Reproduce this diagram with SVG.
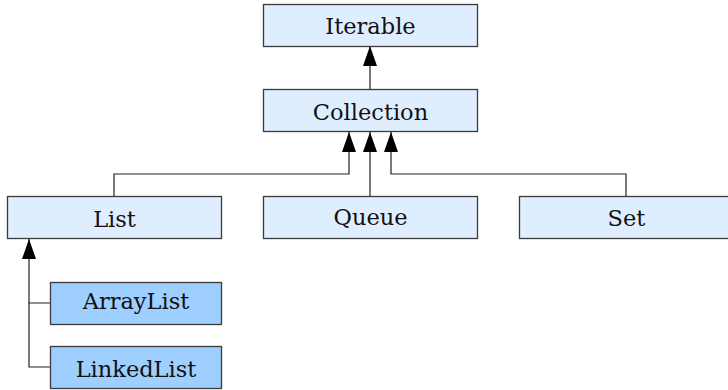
<svg xmlns="http://www.w3.org/2000/svg" width="728" height="390" viewBox="0 0 728 390">
  <style>
    .box { stroke: #3a3a3a; stroke-width: 1.3; }
    .iface { fill: #dfeeff; }
    .impl { fill: #9fcfff; }
    .label { font-family: 'DejaVu Serif', 'Liberation Serif', serif; font-size: 22.5px; fill: #111; text-anchor: middle; }
    .edge { fill: none; stroke: #222; stroke-width: 1.2; }
  </style>
  <defs>
    <marker id="arrow" viewBox="0 0 20 14" refX="20" refY="7" markerWidth="20" markerHeight="14" markerUnits="userSpaceOnUse" orient="auto">
      <path d="M20 7 L0 0 L0 14 Z" fill="#000"/>
    </marker>
  </defs>

  <rect width="728" height="390" fill="#ffffff"/>

  <!-- inheritance connectors -->
  <g id="connectors">
    <path class="edge" d="M370 89 V46" marker-end="url(#arrow)"/>
    <path class="edge" d="M114 196 V174 H349 V132" marker-end="url(#arrow)"/>
    <path class="edge" d="M370 196 V132" marker-end="url(#arrow)"/>
    <path class="edge" d="M626 196 V174 H391 V132" marker-end="url(#arrow)"/>
    <path class="edge" d="M50 303 H29 V239" marker-end="url(#arrow)"/>
    <path class="edge" d="M50 367 H29 V303"/>
  </g>

  <g id="iterable">
    <rect class="box iface" x="263.5" y="4.5" width="214" height="42"/>
    <text class="label" x="370.5" y="34">Iterable</text>
  </g>
  <g id="collection">
    <rect class="box iface" x="263.5" y="89.5" width="214" height="42"/>
    <text class="label" x="370.5" y="120">Collection</text>
  </g>
  <g id="list">
    <rect class="box iface" x="7.5" y="196.5" width="214" height="42"/>
    <text class="label" x="114.5" y="227">List</text>
  </g>
  <g id="queue">
    <rect class="box iface" x="263.5" y="196.5" width="214" height="42"/>
    <text class="label" x="370.5" y="225">Queue</text>
  </g>
  <g id="set">
    <rect class="box iface" x="519.5" y="196.5" width="214" height="42"/>
    <text class="label" x="626.5" y="226">Set</text>
  </g>
  <g id="arraylist">
    <rect class="box impl" x="50.5" y="282.5" width="171" height="42"/>
    <text class="label" x="136" y="309">ArrayList</text>
  </g>
  <g id="linkedlist">
    <rect class="box impl" x="50.5" y="346.5" width="171" height="42"/>
    <text class="label" x="136" y="377">LinkedList</text>
  </g>
</svg>
